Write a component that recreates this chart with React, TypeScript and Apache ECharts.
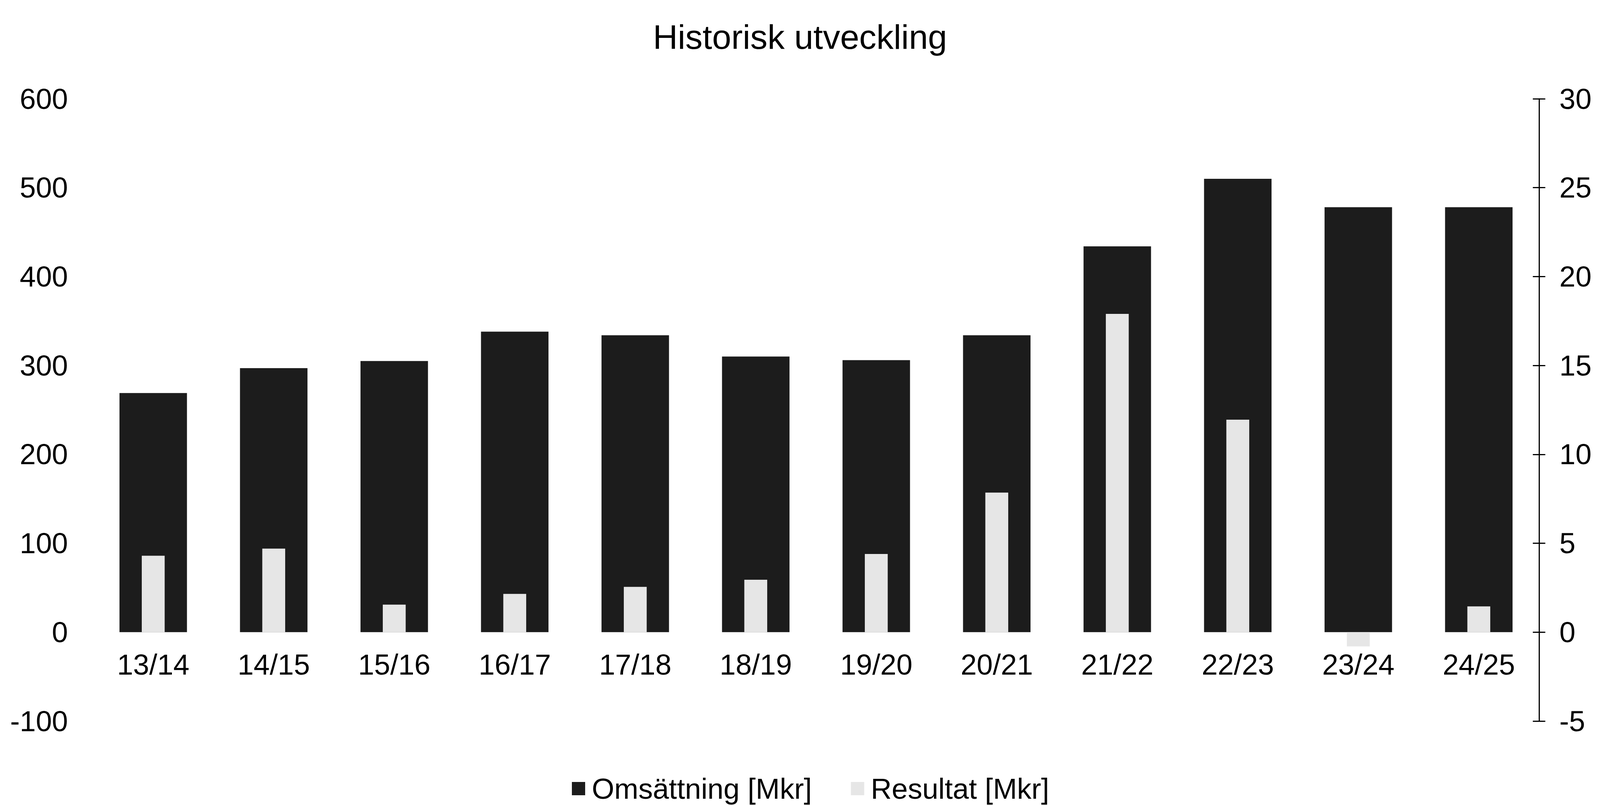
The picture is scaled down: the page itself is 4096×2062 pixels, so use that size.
import React, { useEffect, useRef } from "react";
import * as echarts from "echarts";

const categories = ["13/14", "14/15", "15/16", "16/17", "17/18", "18/19", "19/20", "20/21", "21/22", "22/23", "23/24", "24/25"];
const omsattning = [269, 297, 305, 338, 334, 310, 306, 334, 434, 510, 478, 478];
const resultat = [4.3, 4.7, 1.55, 2.15, 2.55, 2.95, 4.4, 7.85, 17.9, 11.95, -0.8, 1.45];
const leftTicks = { min: -100, max: 600, interval: 100 };
const rightTicks = { min: -5, max: 30, interval: 5 };

const FONT = "'Liberation Sans', Arial, sans-serif";
const W = 4096;
const H = 2062;
const GRID = { left: 238, right: 156, top: 253, bottom: 215 };

export default function App() {
  const ref = useRef<HTMLDivElement>(null);
  useEffect(() => {
    if (!ref.current) return;
    const chart = echarts.init(ref.current, null, { renderer: "svg" });
    const gridHeight = H - GRID.top - GRID.bottom;
    // shift the category axis up from the grid bottom to the zero line of the value axis
    const zeroOffset = -(gridHeight * (0 - leftTicks.min)) / (leftTicks.max - leftTicks.min);
    chart.setOption({
      animation: false,
      backgroundColor: "#ffffff",
      textStyle: { fontFamily: FONT, color: "#000" },
      title: {
        text: "Historisk utveckling",
        left: "center",
        top: 50,
        padding: 0,
        textStyle: { fontSize: 88, fontWeight: "normal", color: "#000", fontFamily: FONT },
      },
      legend: {
        left: 1459,
        top: 1978,
        itemWidth: 34,
        itemHeight: 34,
        itemGap: 100,
        icon: "rect",
        textStyle: { fontSize: 74, color: "#000", fontFamily: FONT, padding: [0, 0, 0, 12] },
        data: ["Omsättning [Mkr]", "Resultat [Mkr]"],
      },
      grid: { ...GRID, containLabel: false },
      xAxis: [
        {
          type: "category",
          data: categories,
          offset: zeroOffset,
          axisLine: { show: false, onZero: false },
          axisTick: { show: false },
          axisLabel: { fontSize: 74, color: "#000", margin: 46, fontFamily: FONT },
          splitLine: { show: false },
        },
        {
          type: "category",
          data: categories,
          show: false,
          axisLine: { show: false, onZero: false },
        },
      ],
      yAxis: [
        {
          type: "value",
          position: "left",
          min: leftTicks.min,
          max: leftTicks.max,
          interval: leftTicks.interval,
          axisLine: { show: false },
          axisTick: { show: false },
          splitLine: { show: false },
          axisLabel: { fontSize: 74, color: "#000", margin: 64, fontFamily: FONT },
        },
        {
          type: "value",
          position: "right",
          min: rightTicks.min,
          max: rightTicks.max,
          interval: rightTicks.interval,
          axisLine: { show: true, onZero: false, lineStyle: { color: "#000", width: 3 } },
          axisTick: { show: true, inside: false, length: 16, lineStyle: { color: "#000", width: 3 } },
          splitLine: { show: false },
          axisLabel: { fontSize: 74, color: "#000", margin: 52, fontFamily: FONT },
        },
        {
          type: "value",
          position: "right",
          min: rightTicks.min,
          max: rightTicks.max,
          interval: rightTicks.interval,
          axisLine: { show: false, onZero: false },
          axisTick: { show: true, inside: true, length: 16, lineStyle: { color: "#000", width: 3 } },
          splitLine: { show: false },
          axisLabel: { show: false },
        },
      ],
      series: [
        {
          name: "Omsättning [Mkr]",
          type: "bar",
          xAxisIndex: 0,
          yAxisIndex: 0,
          data: omsattning,
          barWidth: "56%",
          itemStyle: { color: "#1c1c1c" },
        },
        {
          name: "Resultat [Mkr]",
          type: "bar",
          xAxisIndex: 1,
          yAxisIndex: 1,
          data: resultat,
          barWidth: "19%",
          itemStyle: { color: "#e6e6e6" },
          z: 3,
        },
      ],
    });
    return () => chart.dispose();
  }, []);
  return <div ref={ref} style={{ position: "fixed", left: 0, top: 0, width: W, height: H }} />;
}
